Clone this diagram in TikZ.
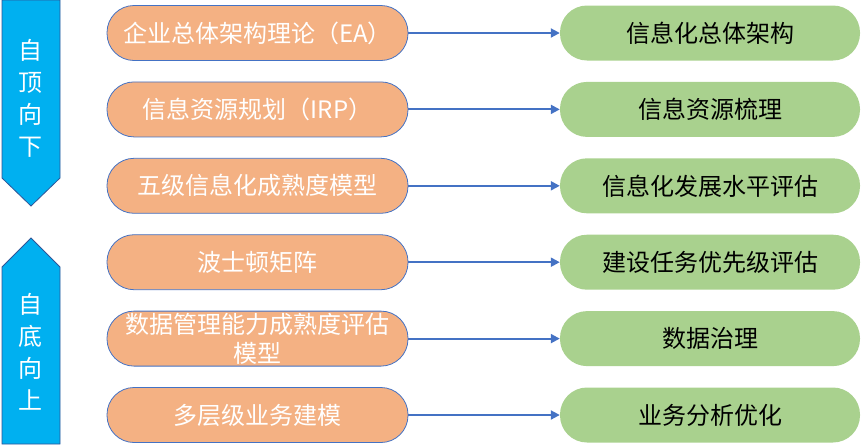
\documentclass[tikz,border=0pt]{standalone}
\usepackage{fontspec}
\setmainfont{Noto Sans CJK SC}
\usetikzlibrary{shapes, arrows.meta, positioning}
\definecolor{pillorange}{HTML}{F4B183}
\definecolor{pillgreen}{HTML}{A9D18E}
\definecolor{linkblue}{HTML}{4472C4}
\definecolor{bandcyan}{HTML}{00B0F0}
\definecolor{bandedge}{HTML}{2F5597}
\tikzstyle{method} = [rectangle, rounded corners=27pt, minimum width=301pt, minimum height=55pt, text centered, draw=linkblue, line width=0.8pt, fill=pillorange, text=white, font=\fontsize{24}{29}\selectfont]
\tikzstyle{result} = [rectangle, rounded corners=27pt, minimum width=300pt, minimum height=55pt, text centered, fill=pillgreen, text=black, font=\fontsize{24}{29}\selectfont]
\tikzstyle{band} = [fill=bandcyan, draw=bandedge, line width=0.8pt]
\tikzstyle{bandtext} = [text=white, align=center, font=\fontsize{24}{32}\selectfont]
\tikzstyle{arrow} = [line width=2pt, draw=linkblue, -{Triangle[length=9pt,width=9pt]}]

\begin{document}
\begin{tikzpicture}[x=1pt, y=1pt, node distance=76.4pt]
\useasboundingbox (0,0) rectangle (862,-445);
% left bands
\draw[band] (2,0) -- (60,0) -- (60,-178) -- (31,-206) -- (2,-178) -- cycle;
\node(topdown) [bandtext] at (31,-98) {自\\顶\\向\\下};
\draw[band] (31,-238) -- (60,-267) -- (60,-444) -- (2,-444) -- (2,-267) -- cycle;
\node(bottomup) [bandtext] at (31,-352) {自\\底\\向\\上};
% methods
\node(ea) [method] at (257.5,-33) {企业总体架构理论（EA）};
\node(irp) [method, below of=ea] {信息资源规划（IRP）};
\node(five) [method, below of=irp] {五级信息化成熟度模型};
\node(bcg) [method, below of=five] {波士顿矩阵};
\node(dcmm) [method, below of=bcg, align=center, inner ysep=0pt] {数据管理能力成熟度评估\\模型};
\node(biz) [method, below of=dcmm] {多层级业务建模};
% results
\node(arch) [result, right of=ea, node distance=452.5pt] {信息化总体架构};
\node(res) [result, right of=irp, node distance=452.5pt] {信息资源梳理};
\node(level) [result, right of=five, node distance=452.5pt] {信息化发展水平评估};
\node(prio) [result, right of=bcg, node distance=452.5pt] {建设任务优先级评估};
\node(gov) [result, right of=dcmm, node distance=452.5pt] {数据治理};
\node(opt) [result, right of=biz, node distance=452.5pt] {业务分析优化};
\draw[arrow] (ea) -- (arch);
\draw[arrow] (irp) -- (res);
\draw[arrow] (five) -- (level);
\draw[arrow] (bcg) -- (prio);
\draw[arrow] (dcmm) -- (gov);
\draw[arrow] (biz) -- (opt);
\end{tikzpicture}
\end{document}
